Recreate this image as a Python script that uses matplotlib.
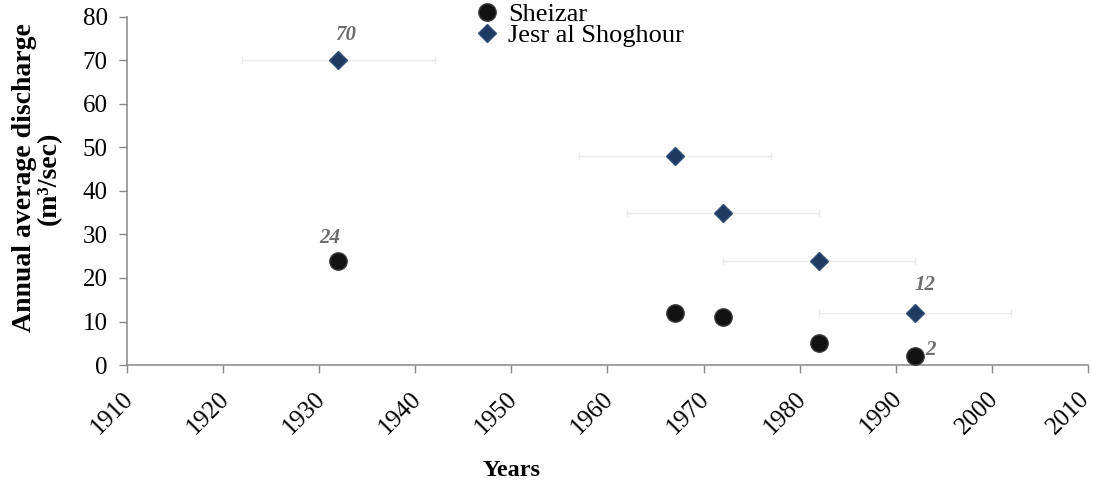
import matplotlib
matplotlib.use("Agg")
import matplotlib.pyplot as plt
from matplotlib.transforms import ScaledTranslation

years = [1932, 1967, 1972, 1982, 1992]
sheizar = [24, 12, 11, 5, 2]
jesr = [70, 48, 35, 24, 12]
xerr_years = [10, 10, 10, 10, 10]
x_ticks = [1910, 1920, 1930, 1940, 1950, 1960, 1970, 1980, 1990, 2000, 2010]
y_ticks = [0, 10, 20, 30, 40, 50, 60, 70, 80]

plt.rcParams['font.family'] = ['Liberation Serif', 'DejaVu Serif']

W, H = 1093, 487
fig = plt.figure(figsize=(W / 100, H / 100), dpi=100)
ax = fig.add_axes([127 / W, 1 - 365 / H, (1088 - 127) / W, (365 - 17) / H])

ax.errorbar(years, jesr, xerr=xerr_years, fmt='none', ecolor='#ebebeb',
            elinewidth=1.0, capsize=3, capthick=1.0, zorder=1)
ax.plot(years, sheizar, 'o', color='#121212', markersize=12.5,
        markeredgecolor='#3a3a3a', markeredgewidth=1.0, label='Sheizar', zorder=3)
ax.plot(years, jesr, 'D', color='#1f3a60', markersize=9.3,
        markeredgecolor='#34507a', markeredgewidth=1.0,
        label='Jesr al Shoghour', zorder=3)

lab_kw = dict(color='#6e6e6e', fontsize=15, fontweight='bold', style='italic',
              ha='center', va='center')
ax.text(1932.7, 75.9, '70', **lab_kw)
ax.text(1931.1, 29.2, '24', **lab_kw)
ax.text(1993.0, 18.4, '12', **lab_kw)
ax.text(1993.6, 3.5, '2', **lab_kw)

ax.set_xlim(1910, 2010)
ax.set_ylim(0, 80)
ax.set_xticks(x_ticks)
ax.set_yticks(y_ticks)
ax.tick_params(axis='x', labelsize=18, direction='out', length=6, width=1.0,
               color='#888888', pad=10)
ax.tick_params(axis='y', labelsize=18, direction='out', length=6, width=1.0,
               color='#888888', pad=8)
xlabels = ax.get_xticklabels()
for i, lbl in enumerate(xlabels):
    lbl.set_rotation(45)
    lbl.set_ha('right')
    lbl.set_va('top')
    lbl.set_rotation_mode('anchor')
    dx = -5 if i < len(xlabels) - 1 else -10
    lbl.set_transform(lbl.get_transform() +
                      ScaledTranslation(dx / 100, 0, fig.dpi_scale_trans))
for side in ['top', 'right']:
    ax.spines[side].set_visible(False)
for side in ['left', 'bottom']:
    ax.spines[side].set_color('#888888')
    ax.spines[side].set_linewidth(1.1)

fig.text(512 / W, 1 - 470 / H, 'Years', fontsize=17.5, fontweight='bold',
         ha='center', va='center')
fig.text(37 / W, 1 - 178 / H, 'Annual average discharge\n(m\u00b3/sec)',
         fontsize=20, fontweight='bold', rotation=90, ha='center', va='center',
         multialignment='center', linespacing=1.0)

ax.legend(loc='upper left', bbox_to_anchor=(474 / W, 1 - 3 / H),
          bbox_transform=fig.transFigure, frameon=False,
          fontsize=19, handletextpad=0.3, labelspacing=-0.1, borderaxespad=0,
          borderpad=0, handlelength=1.0)

fig.savefig('out.png', dpi=100)
